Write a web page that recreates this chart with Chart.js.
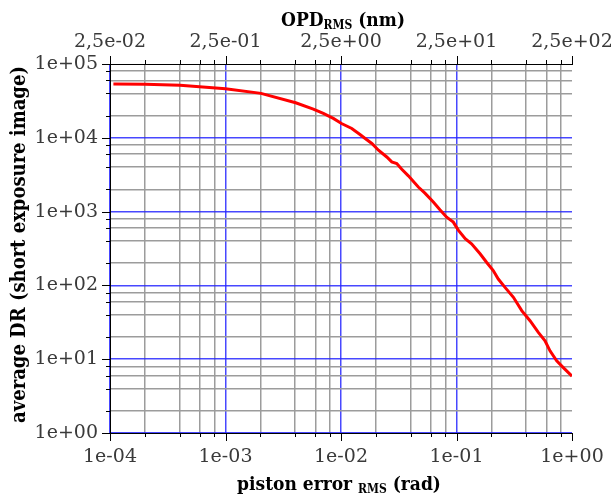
<!DOCTYPE html>
<html>
<head>
<meta charset="utf-8">
<script src="https://cdn.jsdelivr.net/npm/chart.js@4/dist/chart.umd.min.js"></script>
<style>
  html, body { margin: 0; padding: 0; background: #ffffff; }
  #wrap { width: 615px; height: 499px; position: relative; }
</style>
</head>
<body>
<div id="wrap"><canvas id="c" width="615" height="499"></canvas></div>
<script>
// Average dynamic range vs. RMS piston error (log-log)
const pistonRms = [
  1.07e-4, 2.01e-4, 4.04e-4, 1.0e-3, 2.03e-3, 4.05e-3, 5.76e-3, 7.03e-3, 8.58e-3,
  1.01e-2, 1.24e-2, 1.46e-2, 1.62e-2, 1.85e-2, 2.11e-2, 2.49e-2, 2.75e-2, 3.04e-2,
  3.36e-2, 3.83e-2, 4.67e-2, 5.33e-2, 6.30e-2, 7.19e-2, 8.22e-2, 9.38e-2, 1.04e-1,
  1.19e-1, 1.35e-1, 1.60e-1, 1.82e-1, 2.08e-1, 2.30e-1, 2.63e-1, 3.11e-1, 3.67e-1,
  4.33e-1, 5.11e-1, 5.84e-1, 6.45e-1, 7.37e-1, 8.41e-1, 1.0
];
const avgDR = [
  53500, 53000, 51400, 46200, 40000, 29800, 24500, 21400, 18300,
  15600, 13400, 11100, 9780, 8370, 6790, 5500, 4710, 4480,
  3740, 3050, 2150, 1780, 1350, 1060, 841, 720, 556,
  428, 366, 268, 206, 159, 122, 94, 69, 45.5,
  33.2, 23.1, 17.8, 13.0, 9.5, 7.7, 5.9
];

// Axis decades and their printed labels
const xDecades = [1e-4, 1e-3, 1e-2, 1e-1, 1];
const bottomTickLabels = ['1e-04', '1e-03', '1e-02', '1e-01', '1e+00'];
const topTickLabels = ['2,5e-02', '2,5e-01', '2,5e+00', '2,5e+01', '2,5e+02'];
const yDecades = [1, 10, 100, 1e3, 1e4, 1e5];
const yTickLabels = ['1e+00', '1e+01', '1e+02', '1e+03', '1e+04', '1e+05'];
const minorSteps = [2, 4, 6, 8];

function buildTicks(decades) {
  const out = [];
  decades.forEach((d, i) => {
    out.push(d);
    if (i < decades.length - 1) minorSteps.forEach(m => out.push(d * m));
  });
  return out.map(v => ({ value: v }));
}
function isMajor(v) {
  const l = Math.log10(v);
  return Math.abs(l - Math.round(l)) < 1e-9;
}
function labelFor(v, decades, labels) {
  for (let i = 0; i < decades.length; i++) {
    if (Math.abs(Math.log10(v) - Math.log10(decades[i])) < 1e-9) return labels[i];
  }
  return '';
}

const tickFont = { family: '"DejaVu Serif", serif', size: 19 };
const tickColor = '#3a3a3a';

function gridColor(maxVal) {
  return ctx => {
    const v = ctx.tick ? ctx.tick.value : null;
    if (v == null) return 'rgba(0,0,0,0)';
    if (Math.abs(v - maxVal) < 1e-12 * maxVal) return 'rgba(0,0,0,0)';
    return isMajor(v) ? 'rgba(40,40,255,0.85)' : '#9c9c9c';
  };
}
function gridWidth(ctx) {
  const v = ctx.tick ? ctx.tick.value : 1;
  return isMajor(v) ? 1.5 : 1.5;
}

// Black tick marks drawn outside the left, bottom and top axes
const tickMarks = {
  id: 'tickMarks',
  afterDraw(chart) {
    const { ctx, chartArea: a } = chart;
    ctx.save();
    ctx.strokeStyle = '#000';
    ctx.lineWidth = 1;
    ctx.beginPath();
    chart.scales.x.ticks.forEach(t => {
      const px = Math.round(chart.scales.x.getPixelForValue(t.value)) + 0.5;
      const len = isMajor(t.value) ? 8 : 4;
      ctx.moveTo(px, a.bottom); ctx.lineTo(px, a.bottom + len);
      ctx.moveTo(px, a.top); ctx.lineTo(px, a.top - len);
    });
    chart.scales.y.ticks.forEach(t => {
      const py = Math.round(chart.scales.y.getPixelForValue(t.value)) + 0.5;
      const len = isMajor(t.value) ? 8 : 4;
      ctx.moveTo(a.left, py); ctx.lineTo(a.left - len, py);
    });
    ctx.stroke();
    ctx.restore();
  }
};

// Axis titles with subscripts
function drawParts(ctx, parts, cx, baseline, size) {
  const fonts = parts.map(p => p.sub
    ? 'bold 12px "DejaVu Serif Condensed", "DejaVu Serif", serif'
    : 'bold ' + size + 'px "DejaVu Serif Condensed", "DejaVu Serif", serif');
  let total = 0;
  const widths = parts.map((p, i) => { ctx.font = fonts[i]; const w = ctx.measureText(p.t).width; total += w; return w; });
  let x = cx - total / 2;
  parts.forEach((p, i) => {
    ctx.font = fonts[i];
    ctx.fillText(p.t, x, baseline + (p.sub ? 3 : 0));
    x += widths[i];
  });
}
const axisTitles = {
  id: 'axisTitles',
  afterDraw(chart) {
    const { ctx, chartArea: a } = chart;
    ctx.save();
    ctx.fillStyle = '#000';
    ctx.textBaseline = 'alphabetic';
    ctx.textAlign = 'left';
    const cx = (a.left + a.right) / 2;
    drawParts(ctx, [{ t: 'OPD' }, { t: 'RMS', sub: true }, { t: ' (nm)' }], cx + 2, 26, 19);
    drawParts(ctx, [{ t: 'piston error ' }, { t: 'RMS', sub: true }, { t: ' (rad)' }], cx - 2, 490, 19);
    ctx.translate(25, (a.top + a.bottom) / 2 - 4);
    ctx.rotate(-Math.PI / 2);
    drawParts(ctx, [{ t: 'average DR (short exposure image)' }], 0, 0, 20);
    ctx.restore();
  }
};

function fixHorizontal(h) {
  return s => { s.height = h; s.paddingLeft = 0; s.paddingRight = 0; };
}

new Chart(document.getElementById('c'), {
  type: 'line',
  data: {
    datasets: [{
      data: pistonRms.map((x, i) => ({ x, y: avgDR[i] })),
      borderColor: '#ff0000',
      borderWidth: 3,
      pointRadius: 0,
      tension: 0,
      fill: false
    }]
  },
  options: {
    responsive: false,
    animation: false,
    devicePixelRatio: 1,
    layout: { padding: { left: 0, right: 43, top: 0, bottom: 0 } },
    plugins: { legend: { display: false }, tooltip: { enabled: false } },
    scales: {
      x: {
        type: 'logarithmic', position: 'bottom', min: 1e-4, max: 1,
        afterBuildTicks: s => { s.ticks = buildTicks(xDecades); },
        afterFit: fixHorizontal(66),
        ticks: {
          callback: v => labelFor(v, xDecades, bottomTickLabels),
          autoSkip: false, maxRotation: 0, padding: 13, font: tickFont, color: tickColor
        },
        grid: { color: gridColor(1), lineWidth: gridWidth, drawTicks: false },
        border: { display: true, color: '#000', width: 1 }
      },
      x2: {
        type: 'logarithmic', position: 'top', min: 1e-4, max: 1,
        afterBuildTicks: s => { s.ticks = buildTicks(xDecades); },
        afterFit: fixHorizontal(64),
        ticks: {
          callback: v => labelFor(v, xDecades, topTickLabels),
          autoSkip: false, maxRotation: 0, padding: 11, font: tickFont, color: tickColor
        },
        grid: { display: false, drawTicks: false },
        border: { display: true, color: '#000', width: 1 }
      },
      y: {
        type: 'logarithmic', position: 'left', min: 1, max: 1e5,
        afterBuildTicks: s => { s.ticks = buildTicks(yDecades); },
        afterFit: s => { s.width = 110; s.paddingTop = 0; s.paddingBottom = 0; },
        ticks: {
          callback: v => labelFor(v, yDecades, yTickLabels),
          autoSkip: false, padding: 12, font: tickFont, color: tickColor
        },
        grid: { color: gridColor(1e5), lineWidth: gridWidth, drawTicks: false },
        border: { display: true, color: '#000', width: 1 }
      }
    }
  },
  plugins: [tickMarks, axisTitles]
});
</script>
</body>
</html>
